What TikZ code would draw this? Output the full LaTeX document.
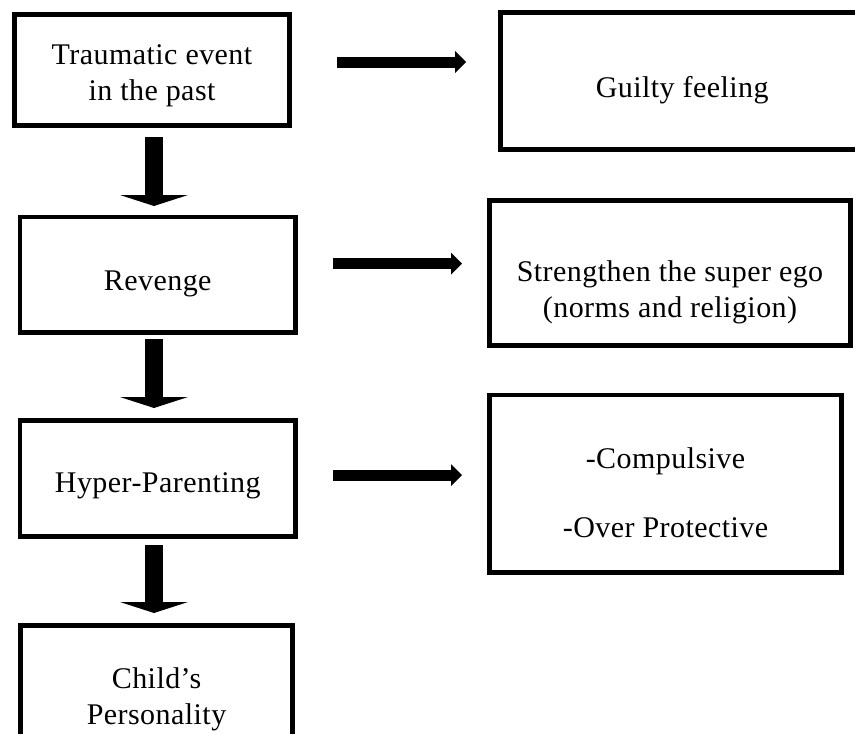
\documentclass[tikz,border=0pt]{standalone}
\usepackage{fontspec}
\newfontfamily\bodyfont[LetterSpace=1.5]{Liberation Serif}
\usetikzlibrary{arrows.meta}
\tikzset{
  box/.style={draw, line width=4.5pt, inner sep=0pt, outer sep=0pt,
    font={\bodyfont\fontsize{30}{36.5}\selectfont}},
  vdown/.style={line width=18pt, -{Triangle[width=68pt,length=11pt,line width=0pt]}},
  harr/.style={line width=11pt, -{Triangle[width=22pt,length=11pt,line width=0pt]}}
}
\begin{document}
\begin{tikzpicture}[x=1pt,y=-1pt]
\useasboundingbox[fill=white] (0,0) rectangle (855,734);
% left column
\node[box, minimum width=275pt, minimum height=111pt, text height=0pt, text depth=12pt] (t) at (152,70)
  {\begin{tabular}[t]{@{}c@{}}Traumatic event\\in the past\end{tabular}};
\node[box, minimum width=275.5pt, minimum height=115.5pt, text height=30.5pt, text depth=0pt] (r) at (157.75,274.75) {Revenge};
\node[box, minimum width=275.5pt, minimum height=116pt, text height=27pt, text depth=0pt] (h) at (157.75,478.5) {Hyper-Parenting};
\node[box, minimum width=272pt, minimum height=154.5pt, text height=0pt, text depth=29.5pt] (ch) at (156.5,702.75)
  {\begin{tabular}[t]{@{}c@{}}Child’s\\Personality\end{tabular}};
% right column
\node[box, minimum width=363.5pt, minimum height=137pt, text height=32pt, text depth=0pt] (g) at (682.25,81) {Guilty feeling};
\node[box, minimum width=361pt, minimum height=145pt, text height=16pt, text depth=0pt] (s) at (670,273)
  {\begin{tabular}[t]{@{}c@{}}Strengthen the super ego\\(norms and religion)\end{tabular}};
\node[box, minimum width=352pt, minimum height=177.5pt, text height=0pt, text depth=31.5pt] (c) at (665.5,483.75)
  {\begin{tabular}[t]{@{}c@{}}-Compulsive\\[32.5pt]-Over Protective\end{tabular}};
% helper coordinates for arrow lines
\coordinate (ax) at (154,0);
\coordinate (r1) at (0,62);
\coordinate (r2) at (0,263.5);
\coordinate (r3) at (0,475);
% vertical arrows
\draw[vdown, shorten <=11.5pt, shorten >=11pt] (t.south -| ax) -- (r.north -| ax);
\draw[vdown, shorten <=6.5pt, shorten >=12.5pt] (r.south -| ax) -- (h.north -| ax);
\draw[vdown, shorten <=8.5pt, shorten >=12.5pt] (h.south -| ax) -- (ch.north -| ax);
% horizontal arrows
\draw[harr, shorten <=47.5pt, shorten >=34.5pt] (t.east |- r1) -- (g.west |- r1);
\draw[harr, shorten <=37.5pt, shorten >=27.5pt] (r.east |- r2) -- (s.west |- r2);
\draw[harr, shorten <=37.5pt, shorten >=27.5pt] (h.east |- r3) -- (c.west |- r3);
\end{tikzpicture}
\end{document}
